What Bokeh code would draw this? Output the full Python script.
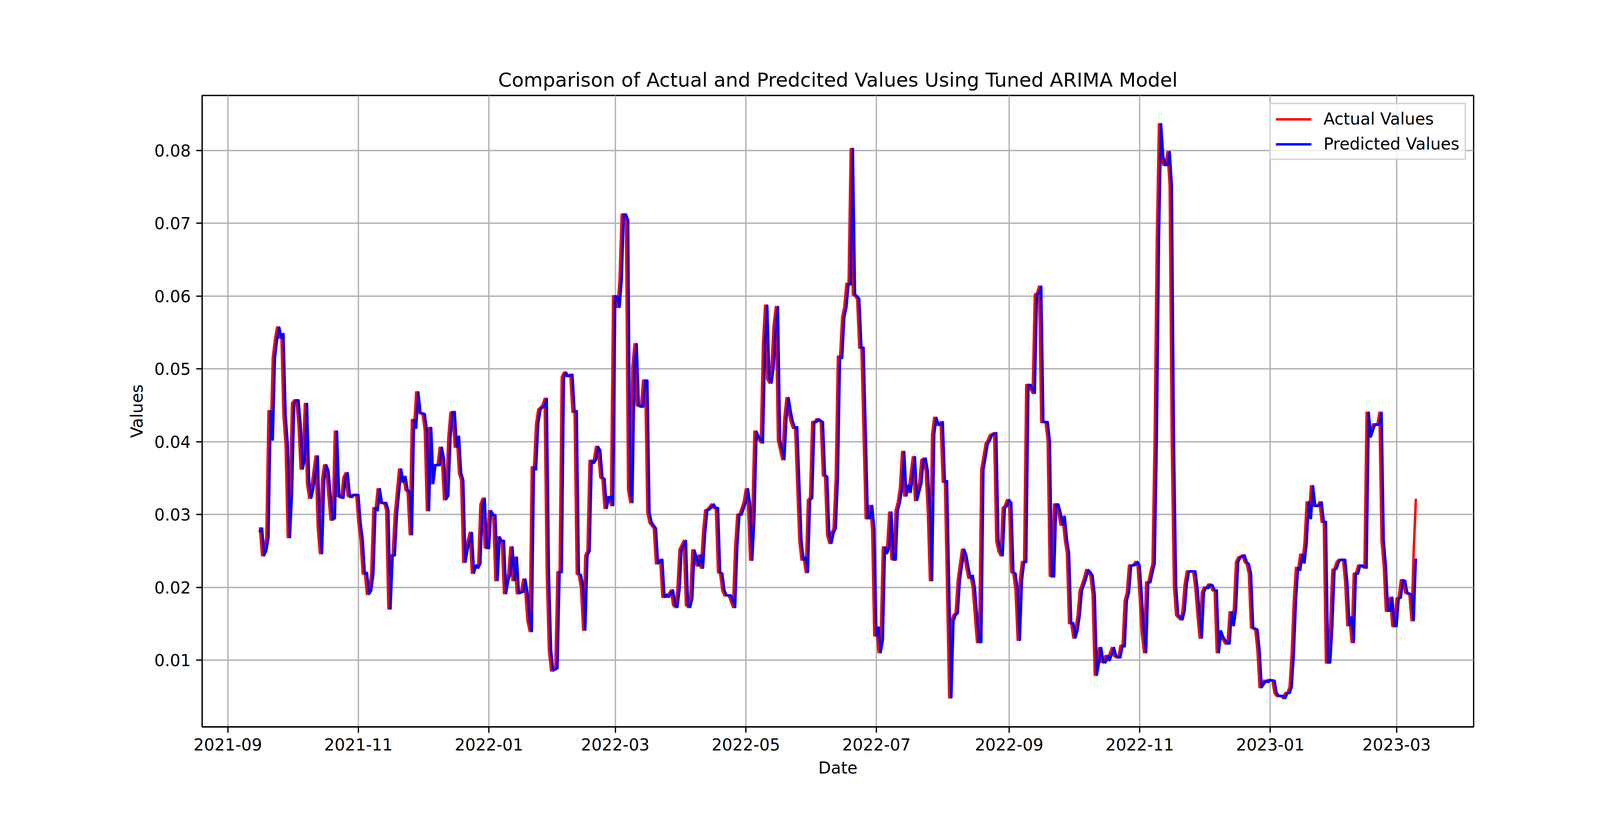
import pandas as pd
from bokeh.plotting import figure
from bokeh.models import (Range1d, FixedTicker, NumeralTickFormatter, DatetimeTickFormatter,
                          MonthsTicker, Legend, LegendItem)
from bokeh.embed import file_html
from bokeh.resources import INLINE

# ---------------- data ----------------
title_text = "Comparison of Actual and Predcited Values Using Tuned ARIMA Model"
x_label = "Date"
y_label = "Values"
start_date = "2021-09-15"          # day offsets below count from this date
x_limits_days = [-26, 568]
y_limits = [0.00086, 0.08754]
y_ticks = [0.01, 0.02, 0.03, 0.04, 0.05, 0.06, 0.07, 0.08]
x_tick_months = [0, 2, 4, 6, 8, 10]   # Bokeh months are 0-based: Jan, Mar, May, Jul, Sep, Nov
series_names = ["Actual Values", "Predicted Values"]

actual_day = [
    1, 2, 3, 4, 5, 6, 7, 8, 9, 10,
    11, 12, 13, 14, 15, 16, 17, 18, 19, 20,
    21, 22, 23, 24, 25, 27, 28, 29, 30, 31,
    32, 34, 35, 36, 37, 39, 40, 41, 42, 43,
    44, 46, 47, 48, 49, 50, 51, 52, 53, 54,
    55, 56, 57, 59, 60, 61, 62, 63, 64, 66,
    67, 68, 69, 70, 71, 72, 73, 74, 75, 77,
    78, 79, 80, 81, 82, 84, 85, 86, 87, 88,
    89, 90, 91, 92, 93, 94, 95, 96, 97, 99,
    100, 101, 102, 103, 104, 105, 106, 107, 108, 109,
    110, 111, 112, 113, 114, 115, 116, 117, 118, 119,
    120, 121, 123, 124, 125, 126, 127, 128, 129, 130,
    131, 133, 134, 135, 136, 137, 139, 140, 141, 142,
    143, 144, 146, 147, 148, 149, 150, 151, 152, 153,
    154, 155, 156, 157, 158, 159, 160, 161, 162, 163,
    164, 165, 166, 167, 168, 169, 170, 171, 172, 173,
    174, 175, 176, 177, 179, 180, 181, 182, 183, 185,
    186, 188, 189, 190, 191, 193, 194, 195, 196, 197,
    198, 199, 200, 201, 202, 203, 204, 205, 206, 207,
    208, 209, 210, 212, 213, 214, 215, 216, 217, 218,
    220, 222, 223, 224, 225, 227, 228, 229, 230, 231,
    232, 233, 235, 236, 237, 238, 239, 240, 241, 242,
    243, 245, 246, 247, 248, 249, 250, 251, 253, 254,
    255, 256, 257, 258, 259, 260, 261, 263, 264, 265,
    266, 267, 268, 269, 270, 271, 272, 273, 274, 275,
    276, 277, 278, 279, 280, 281, 282, 283, 284, 285,
    286, 287, 288, 289, 290, 291, 292, 293, 294, 295,
    296, 297, 298, 299, 300, 301, 302, 303, 304, 306,
    307, 309, 310, 311, 312, 313, 314, 315, 316, 317,
    318, 319, 320, 321, 322, 323, 324, 325, 326, 327,
    329, 330, 331, 332, 333, 334, 336, 337, 338, 339,
    340, 341, 342, 344, 345, 346, 347, 348, 349, 350,
    351, 352, 353, 354, 355, 356, 357, 358, 359, 360,
    361, 362, 363, 364, 365, 366, 368, 369, 370, 371,
    372, 373, 374, 375, 376, 377, 378, 379, 380, 381,
    382, 383, 384, 385, 386, 387, 388, 389, 390, 391,
    392, 393, 394, 395, 396, 397, 398, 399, 400, 401,
    402, 403, 404, 405, 406, 407, 408, 409, 410, 411,
    412, 413, 414, 415, 416, 417, 418, 419, 420, 421,
    422, 423, 424, 425, 426, 427, 428, 429, 431, 432,
    433, 434, 437, 438, 439, 440, 441, 442, 443, 444,
    445, 446, 447, 448, 449, 450, 452, 453, 454, 455,
    456, 457, 458, 460, 461, 462, 463, 464, 466, 467,
    468, 470, 471, 472, 474, 475, 476, 478, 479, 480,
    481, 482, 483, 484, 485, 486, 487, 488, 489, 490,
    491, 492, 493, 495, 496, 497, 498, 499, 500, 501,
    502, 503, 504, 505, 507, 508, 509, 510, 511, 512,
    513, 514, 515, 517, 518, 519, 520, 521, 523, 524,
    525, 526, 527, 528, 529, 530, 531, 532, 533, 534,
    535, 536, 538, 539, 540, 541,
]

actual_value = [
    .0281, .0244, .0251, .0269, .0442, .0403, .0515, .0540, .0557, .0543,
    .0548, .0436, .0396, .0269, .0331, .0453, .0457, .0457, .0424, .0363,
    .0376, .0452, .0343, .0323, .0337, .0380, .0283, .0247, .0348, .0368,
    .0360, .0293, .0295, .0414, .0326, .0323, .0351, .0357, .0326, .0324,
    .0327, .0327, .0289, .0266, .0219, .0220, .0191, .0196, .0219, .0309,
    .0306, .0335, .0316, .0316, .0306, .0171, .0244, .0244, .0300, .0362,
    .0345, .0352, .0334, .0331, .0273, .0430, .0419, .0468, .0440, .0438,
    .0416, .0306, .0419, .0343, .0368, .0368, .0392, .0376, .0321, .0326,
    .0405, .0440, .0441, .0393, .0407, .0357, .0347, .0235, .0252, .0275,
    .0220, .0230, .0227, .0233, .0314, .0322, .0255, .0254, .0305, .0300,
    .0299, .0210, .0269, .0264, .0264, .0192, .0210, .0218, .0255, .0210,
    .0241, .0192, .0194, .0211, .0193, .0154, .0140, .0365, .0362, .0424,
    .0444, .0450, .0459, .0221, .0114, .0086, .0089, .0221, .0221, .0489,
    .0495, .0490, .0492, .0441, .0442, .0219, .0217, .0199, .0142, .0244,
    .0250, .0374, .0371, .0375, .0393, .0388, .0351, .0349, .0309, .0324,
    .0324, .0313, .0600, .0599, .0585, .0622, .0712, .0712, .0704, .0334,
    .0317, .0503, .0534, .0450, .0448, .0484, .0484, .0303, .0289, .0281,
    .0233, .0238, .0187, .0190, .0187, .0196, .0176, .0173, .0196, .0252,
    .0258, .0264, .0176, .0173, .0185, .0251, .0241, .0230, .0244, .0227,
    .0275, .0306, .0307, .0314, .0309, .0309, .0221, .0219, .0196, .0189,
    .0189, .0173, .0255, .0300, .0300, .0317, .0335, .0314, .0238, .0295,
    .0414, .0407, .0399, .0534, .0587, .0486, .0481, .0503, .0560, .0585,
    .0402, .0376, .0433, .0460, .0441, .0427, .0419, .0420, .0264, .0238,
    .0241, .0221, .0320, .0323, .0427, .0427, .0431, .0427, .0354, .0352,
    .0272, .0261, .0275, .0281, .0351, .0517, .0515, .0571, .0585, .0617,
    .0616, .0802, .0602, .0600, .0596, .0529, .0529, .0413, .0295, .0295,
    .0312, .0281, .0134, .0145, .0111, .0128, .0255, .0247, .0255, .0303,
    .0239, .0238, .0306, .0317, .0337, .0386, .0326, .0340, .0331, .0379,
    .0320, .0343, .0375, .0377, .0360, .0306, .0210, .0410, .0433, .0424,
    .0423, .0427, .0345, .0346, .0199, .0049, .0154, .0162, .0165, .0210,
    .0252, .0244, .0227, .0213, .0216, .0199, .0125, .0125, .0362, .0379,
    .0397, .0402, .0409, .0412, .0264, .0250, .0244, .0309, .0312, .0320,
    .0316, .0221, .0219, .0196, .0128, .0210, .0235, .0235, .0478, .0478,
    .0472, .0467, .0602, .0604, .0613, .0427, .0427, .0402, .0216, .0215,
    .0314, .0314, .0303, .0286, .0297, .0266, .0247, .0151, .0151, .0131,
    .0142, .0162, .0196, .0204, .0213, .0224, .0221, .0216, .0190, .0080,
    .0097, .0117, .0098, .0097, .0106, .0100, .0109, .0117, .0106, .0104,
    .0104, .0120, .0119, .0182, .0193, .0230, .0230, .0231, .0235, .0230,
    .0187, .0137, .0111, .0207, .0207, .0221, .0233, .0407, .0678, .0836,
    .0791, .0780, .0780, .0798, .0752, .0396, .0202, .0162, .0156, .0168,
    .0204, .0222, .0222, .0199, .0162, .0131, .0193, .0200, .0199, .0204,
    .0203, .0196, .0196, .0111, .0140, .0132, .0123, .0123, .0166, .0148,
    .0171, .0235, .0241, .0244, .0235, .0232, .0219, .0145, .0142, .0114,
    .0063, .0072, .0070, .0073, .0072, .0055, .0051, .0051, .0048, .0055,
    .0055, .0063, .0109, .0182, .0227, .0224, .0245, .0234, .0261, .0317,
    .0295, .0339, .0312, .0312, .0317, .0290, .0290, .0097, .0097, .0148,
    .0224, .0226, .0235, .0238, .0238, .0207, .0148, .0159, .0125, .0219,
    .0219, .0230, .0230, .0227, .0440, .0407, .0416, .0424, .0423, .0440,
    .0264, .0230, .0168, .0168, .0186, .0147, .0147, .0185, .0186, .0210,
    .0209, .0193, .0190, .0155, .0250, .0320,
]

predicted_day = [
    1,
    2, 3, 4, 5, 6, 7, 8, 9, 10, 11,
    12, 13, 14, 15, 16, 17, 18, 19, 20, 21,
    22, 23, 24, 25, 26, 28, 29, 30, 31, 32,
    33, 35, 36, 37, 38, 40, 41, 42, 43, 44,
    45, 47, 48, 49, 50, 51, 52, 53, 54, 55,
    56, 57, 58, 60, 61, 62, 63, 64, 65, 67,
    68, 69, 70, 71, 72, 73, 74, 75, 76, 78,
    79, 80, 81, 82, 83, 85, 86, 87, 88, 89,
    90, 91, 92, 93, 94, 95, 96, 97, 98, 100,
    101, 102, 103, 104, 105, 106, 107, 108, 109, 110,
    111, 112, 113, 114, 115, 116, 117, 118, 119, 120,
    121, 122, 124, 125, 126, 127, 128, 129, 130, 131,
    132, 134, 135, 136, 137, 138, 140, 141, 142, 143,
    144, 145, 147, 148, 149, 150, 151, 152, 153, 154,
    155, 156, 157, 158, 159, 160, 161, 162, 163, 164,
    165, 166, 167, 168, 169, 170, 171, 172, 173, 174,
    175, 176, 177, 178, 180, 181, 182, 183, 184, 186,
    187, 189, 190, 191, 192, 194, 195, 196, 197, 198,
    199, 200, 201, 202, 203, 204, 205, 206, 207, 208,
    209, 210, 211, 213, 214, 215, 216, 217, 218, 219,
    221, 223, 224, 225, 226, 228, 229, 230, 231, 232,
    233, 234, 236, 237, 238, 239, 240, 241, 242, 243,
    244, 246, 247, 248, 249, 250, 251, 252, 254, 255,
    256, 257, 258, 259, 260, 261, 262, 264, 265, 266,
    267, 268, 269, 270, 271, 272, 273, 274, 275, 276,
    277, 278, 279, 280, 281, 282, 283, 284, 285, 286,
    287, 288, 289, 290, 291, 292, 293, 294, 295, 296,
    297, 298, 299, 300, 301, 302, 303, 304, 305, 307,
    308, 310, 311, 312, 313, 314, 315, 316, 317, 318,
    319, 320, 321, 322, 323, 324, 325, 326, 327, 328,
    330, 331, 332, 333, 334, 335, 337, 338, 339, 340,
    341, 342, 343, 345, 346, 347, 348, 349, 350, 351,
    352, 353, 354, 355, 356, 357, 358, 359, 360, 361,
    362, 363, 364, 365, 366, 367, 369, 370, 371, 372,
    373, 374, 375, 376, 377, 378, 379, 380, 381, 382,
    383, 384, 385, 386, 387, 388, 389, 390, 391, 392,
    393, 394, 395, 396, 397, 398, 399, 400, 401, 402,
    403, 404, 405, 406, 407, 408, 409, 410, 411, 412,
    413, 414, 415, 416, 417, 418, 419, 420, 421, 422,
    423, 424, 425, 426, 427, 428, 429, 430, 432, 433,
    434, 435, 438, 439, 440, 441, 442, 443, 444, 445,
    446, 447, 448, 449, 450, 451, 453, 454, 455, 456,
    457, 458, 459, 461, 462, 463, 464, 465, 467, 468,
    469, 471, 472, 473, 475, 476, 477, 479, 480, 481,
    482, 483, 484, 485, 486, 487, 488, 489, 490, 491,
    492, 493, 494, 496, 497, 498, 499, 500, 501, 502,
    503, 504, 505, 506, 508, 509, 510, 511, 512, 513,
    514, 515, 516, 518, 519, 520, 521, 522, 524, 525,
    526, 527, 528, 529, 530, 531, 532, 533, 534, 535,
    536, 537, 539, 540, 541,
]

predicted_value = [
    .0277,
    .0281, .0244, .0251, .0269, .0442, .0403, .0515, .0540, .0557, .0543,
    .0548, .0436, .0396, .0269, .0331, .0453, .0457, .0457, .0424, .0363,
    .0376, .0452, .0343, .0323, .0337, .0380, .0283, .0247, .0348, .0368,
    .0360, .0293, .0295, .0414, .0326, .0323, .0351, .0357, .0326, .0324,
    .0327, .0327, .0289, .0266, .0219, .0220, .0191, .0196, .0219, .0309,
    .0306, .0335, .0316, .0316, .0306, .0171, .0244, .0244, .0300, .0362,
    .0345, .0352, .0334, .0331, .0273, .0430, .0419, .0468, .0440, .0438,
    .0416, .0306, .0419, .0343, .0368, .0368, .0392, .0376, .0321, .0326,
    .0405, .0440, .0441, .0393, .0407, .0357, .0347, .0235, .0252, .0275,
    .0220, .0230, .0227, .0233, .0314, .0322, .0255, .0254, .0305, .0300,
    .0299, .0210, .0269, .0264, .0264, .0192, .0210, .0218, .0255, .0210,
    .0241, .0192, .0194, .0211, .0193, .0154, .0140, .0365, .0362, .0424,
    .0444, .0450, .0459, .0221, .0114, .0086, .0089, .0221, .0221, .0489,
    .0495, .0490, .0492, .0441, .0442, .0219, .0217, .0199, .0142, .0244,
    .0250, .0374, .0371, .0375, .0393, .0388, .0351, .0349, .0309, .0324,
    .0324, .0313, .0600, .0599, .0585, .0622, .0712, .0712, .0704, .0334,
    .0317, .0503, .0534, .0450, .0448, .0484, .0484, .0303, .0289, .0281,
    .0233, .0238, .0187, .0190, .0187, .0196, .0176, .0173, .0196, .0252,
    .0258, .0264, .0176, .0173, .0185, .0251, .0241, .0230, .0244, .0227,
    .0275, .0306, .0307, .0314, .0309, .0309, .0221, .0219, .0196, .0189,
    .0189, .0173, .0255, .0300, .0300, .0317, .0335, .0314, .0238, .0295,
    .0414, .0407, .0399, .0534, .0587, .0486, .0481, .0503, .0560, .0585,
    .0402, .0376, .0433, .0460, .0441, .0427, .0419, .0420, .0264, .0238,
    .0241, .0221, .0320, .0323, .0427, .0427, .0431, .0427, .0354, .0352,
    .0272, .0261, .0275, .0281, .0351, .0517, .0515, .0571, .0585, .0617,
    .0616, .0802, .0602, .0600, .0596, .0529, .0529, .0413, .0295, .0295,
    .0312, .0281, .0134, .0145, .0111, .0128, .0255, .0247, .0255, .0303,
    .0239, .0238, .0306, .0317, .0337, .0386, .0326, .0340, .0331, .0379,
    .0320, .0343, .0375, .0377, .0360, .0306, .0210, .0410, .0433, .0424,
    .0423, .0427, .0345, .0346, .0199, .0049, .0154, .0162, .0165, .0210,
    .0252, .0244, .0227, .0213, .0216, .0199, .0125, .0125, .0362, .0379,
    .0397, .0402, .0409, .0412, .0264, .0250, .0244, .0309, .0312, .0320,
    .0316, .0221, .0219, .0196, .0128, .0210, .0235, .0235, .0478, .0478,
    .0472, .0467, .0602, .0604, .0613, .0427, .0427, .0402, .0216, .0215,
    .0314, .0314, .0303, .0286, .0297, .0266, .0247, .0151, .0151, .0131,
    .0142, .0162, .0196, .0204, .0213, .0224, .0221, .0216, .0190, .0080,
    .0097, .0117, .0098, .0097, .0106, .0100, .0109, .0117, .0106, .0104,
    .0104, .0120, .0119, .0182, .0193, .0230, .0230, .0231, .0235, .0230,
    .0187, .0137, .0111, .0207, .0207, .0221, .0233, .0407, .0678, .0836,
    .0791, .0780, .0780, .0798, .0752, .0396, .0202, .0162, .0156, .0168,
    .0204, .0222, .0222, .0199, .0162, .0131, .0193, .0200, .0199, .0204,
    .0203, .0196, .0196, .0111, .0140, .0132, .0123, .0123, .0166, .0148,
    .0171, .0235, .0241, .0244, .0235, .0232, .0219, .0145, .0142, .0114,
    .0063, .0072, .0070, .0073, .0072, .0055, .0051, .0051, .0048, .0055,
    .0055, .0063, .0109, .0182, .0227, .0224, .0245, .0234, .0261, .0317,
    .0295, .0339, .0312, .0312, .0317, .0290, .0290, .0097, .0097, .0148,
    .0224, .0226, .0235, .0238, .0238, .0207, .0148, .0159, .0125, .0219,
    .0219, .0230, .0230, .0227, .0440, .0407, .0416, .0424, .0423, .0440,
    .0264, .0230, .0168, .0168, .0186, .0147, .0147, .0185, .0186, .0210,
    .0209, .0193, .0190, .0155, .0238,
]

# ---------------- build ----------------
t0 = pd.Timestamp(start_date)
def to_dates(days):
    return [t0 + pd.Timedelta(days=int(d)) for d in days]

actual_x = to_dates(actual_day)
pred_x = to_dates(predicted_day)

FONT = "DejaVu Sans"
W, H = 4180, 2080

p = figure(width=W, height=H, x_axis_type="datetime",
           x_range=Range1d(t0 + pd.Timedelta(days=x_limits_days[0]), t0 + pd.Timedelta(days=x_limits_days[1])),
           y_range=Range1d(y_limits[0], y_limits[1]),
           output_backend="svg", toolbar_location=None,
           min_border_left=517, min_border_right=408, min_border_top=244, min_border_bottom=219)

p.background_fill_color = "white"
p.border_fill_color = "white"
p.outline_line_color = "black"
p.outline_line_width = 3.3

# title
p.title.text = title_text
p.title.text_font = FONT
p.title.text_font_size = "50px"
p.title.text_font_style = "normal"
p.title.align = "center"
p.title.text_color = "black"
p.title.standoff = 22

# axes
for ax in (p.xaxis[0], p.yaxis[0]):
    ax.axis_line_color = "black"
    ax.axis_line_width = 3.3
    ax.major_tick_line_color = "black"
    ax.major_tick_line_width = 3.3
    ax.major_tick_out = 15
    ax.major_tick_in = 0
    ax.minor_tick_line_color = None
    ax.major_label_text_font = FONT
    ax.major_label_text_font_size = "42px"
    ax.major_label_text_color = "black"
    ax.major_label_standoff = 14
    ax.axis_label_text_font = FONT
    ax.axis_label_text_font_size = "42px"
    ax.axis_label_text_font_style = "normal"
    ax.axis_label_text_color = "black"
    ax.axis_label_standoff = 17

p.xaxis.axis_label = x_label
p.yaxis.axis_label = y_label
p.xaxis.ticker = MonthsTicker(months=x_tick_months)
p.xaxis.formatter = DatetimeTickFormatter(months="%Y-%m", days="%Y-%m", years="%Y-%m")
p.yaxis.ticker = FixedTicker(ticks=y_ticks)
p.yaxis.formatter = NumeralTickFormatter(format="0.00")

for g in (p.xgrid[0], p.ygrid[0]):
    g.grid_line_color = "#b0b0b0"
    g.grid_line_width = 3.3

r_act = p.line(actual_x, actual_value, line_color="red", line_width=6.25,
               line_join="round", line_cap="square")
r_pred = p.line(pred_x, predicted_value, line_color="blue", line_width=6.25,
                line_join="round", line_cap="square")

legend = Legend(items=[LegendItem(label=series_names[0], renderers=[r_act]),
                       LegendItem(label=series_names[1], renderers=[r_pred])],
                location="top_right")
legend.margin = 19
legend.padding = 13
legend.spacing = 15
legend.glyph_width = 91
legend.glyph_height = 48
legend.label_height = 48
legend.label_standoff = 31
legend.label_text_font = FONT
legend.label_text_font_size = "42px"
legend.label_text_color = "black"
legend.border_line_color = "#cccccc"
legend.border_line_width = 4
legend.border_line_alpha = 0.8
legend.background_fill_color = "white"
legend.background_fill_alpha = 0.8
p.add_layout(legend)

open("out.html", "w").write(file_html(p, INLINE))
